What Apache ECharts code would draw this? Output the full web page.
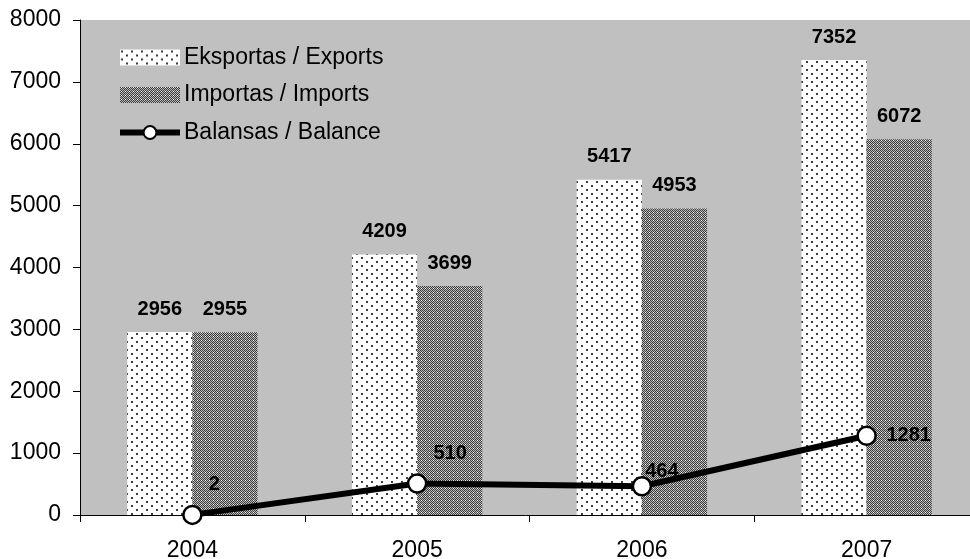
<!DOCTYPE html>
<html><head><meta charset="utf-8">
<script src="https://cdn.jsdelivr.net/npm/echarts@6/dist/echarts.min.js"></script>
<style>html,body{margin:0;padding:0;background:#fff}#c{width:970px;height:559px}</style>
</head><body><div id="c"></div>
<script>
const categories = ['2004', '2005', '2006', '2007'];
const exportsData = [2956, 4209, 5417, 7352];
const importsData = [2955, 3699, 4953, 6072];
const balanceData = [2, 510, 464, 1281];
const yTicks = [0, 1000, 2000, 3000, 4000, 5000, 6000, 7000, 8000];
const seriesNames = ['Eksportas / Exports', 'Importas / Imports', 'Balansas / Balance'];

function makeExportPattern() {
  const c = document.createElement('canvas'); c.width = 10; c.height = 8;
  const g = c.getContext('2d');
  g.fillStyle = '#ffffff'; g.fillRect(0, 0, 10, 8);
  g.fillStyle = '#3c3c3c';
  g.fillRect(1, 1, 2, 2); g.fillRect(6, 5, 2, 2);
  return c;
}
function makeImportPattern() {
  const c = document.createElement('canvas'); c.width = 4; c.height = 4;
  const g = c.getContext('2d');
  for (let y = 0; y < 4; y++) for (let x = 0; x < 4; x++) {
    g.fillStyle = ((x + y) % 2 === 0) ? '#3a3a3a' : '#bcbcbc';
    g.fillRect(x, y, 1, 1);
  }
  g.fillStyle = '#ffffff'; g.fillRect(1, 0, 1, 1);
  return c;
}
const expPat = { image: makeExportPattern(), repeat: 'repeat' };
const impPat = { image: makeImportPattern(), repeat: 'repeat' };
// label centre offsets relative to each point
const balanceOffsets = [[22, -30], [33, -30], [20, -15], [42, 0]];

const font = 'Arial, "Liberation Sans", sans-serif';
const chart = echarts.init(document.getElementById('c'), null, { renderer: 'canvas' });
chart.setOption({
  animation: false,
  backgroundColor: '#ffffff',
  grid: { left: 80, width: 899, top: 20, bottom: 44, show: true, backgroundColor: '#c0c0c0', borderWidth: 0,
    containLabel: false, outerBoundsMode: 'none' },
  legend: {
    orient: 'vertical', left: 117, top: 46, padding: 0, itemWidth: 60, itemHeight: 16, itemGap: 14.5,
    textStyle: { fontFamily: font, fontSize: 23, lineHeight: 22, color: '#000', padding: [0, 0, 0, -1] },
    data: [
      { name: seriesNames[0], icon: 'rect' },
      { name: seriesNames[1], icon: 'rect' },
      { name: seriesNames[2], lineStyle: { width: 6 } }
    ]
  },
  xAxis: {
    type: 'category', data: categories,
    axisLine: { lineStyle: { color: '#000', width: 1 } },
    axisTick: { show: true, alignWithLabel: false, length: 7, lineStyle: { color: '#000' } },
    axisLabel: { fontFamily: font, fontSize: 23, color: '#000', margin: 24 }
  },
  yAxis: {
    type: 'value', min: 0, max: 8000, interval: 1000,
    axisLine: { show: true, lineStyle: { color: '#000', width: 1 } },
    axisTick: { show: true, length: 7, lineStyle: { color: '#000' } },
    splitLine: { show: false },
    axisLabel: { fontFamily: font, fontSize: 23, color: '#000', margin: 19,
      formatter: v => yTicks.includes(v) ? String(v) : '' }
  },
  series: [
    {
      name: seriesNames[0], type: 'bar', data: exportsData, barGap: '0%', barCategoryGap: '42%',
      itemStyle: { color: expPat },
      label: { show: true, position: 'top', distance: 13, fontFamily: font, fontSize: 20, fontWeight: 'bold', color: '#000' }
    },
    {
      name: seriesNames[1], type: 'bar', data: importsData,
      itemStyle: { color: impPat },
      label: { show: true, position: 'top', distance: 13, fontFamily: font, fontSize: 20, fontWeight: 'bold', color: '#000' }
    },
    {
      name: seriesNames[2], type: 'line', data: balanceData.map((v, i) => ({
        value: v, label: { offset: balanceOffsets[i] }
      })),
      z: 5, symbol: 'circle', symbolSize: 18,
      lineStyle: { color: '#000', width: 6 },
      itemStyle: { color: '#ffffff', borderColor: '#000', borderWidth: 2.5 },
      label: { show: true, position: 'inside', fontFamily: font, fontSize: 20, fontWeight: 'bold', color: '#000' }
    }
  ]
});
</script></body></html>
